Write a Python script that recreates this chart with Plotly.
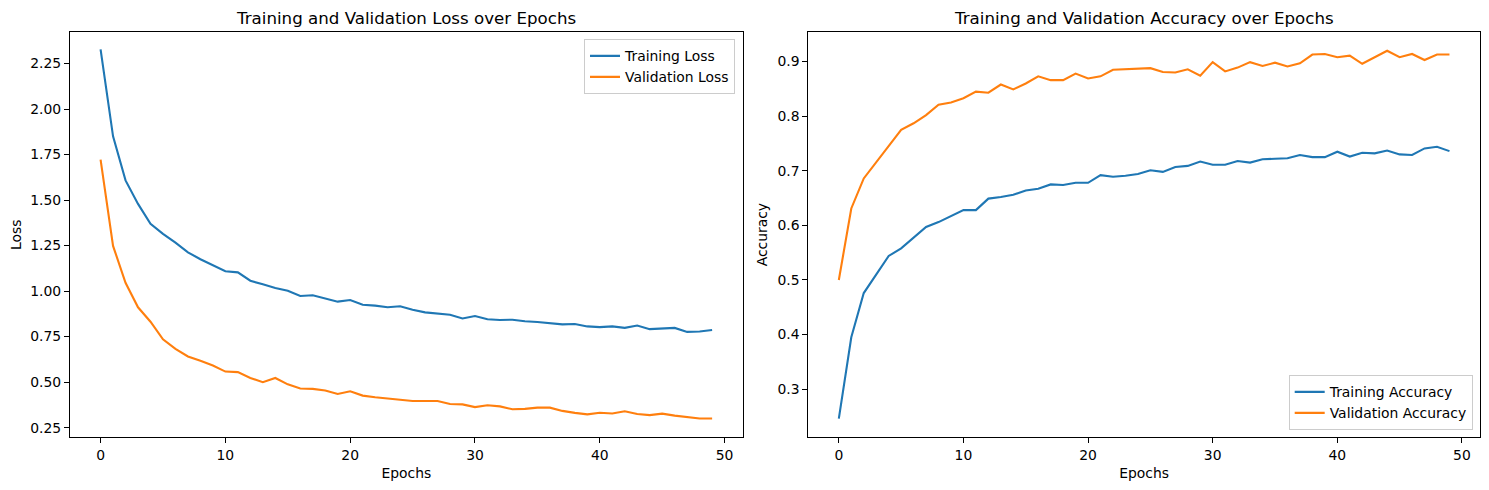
import plotly.graph_objects as go

epochs = list(range(50))

train_loss = [2.327, 1.850, 1.608, 1.479, 1.369, 1.314, 1.266, 1.213, 1.175, 1.142,
              1.109, 1.103, 1.057, 1.037, 1.017, 1.002, 0.973, 0.977, 0.960, 0.942,
              0.951, 0.925, 0.920, 0.911, 0.917, 0.897, 0.883, 0.875, 0.870, 0.850,
              0.863, 0.845, 0.841, 0.843, 0.834, 0.830, 0.824, 0.817, 0.819, 0.806,
              0.802, 0.806, 0.798, 0.811, 0.791, 0.793, 0.798, 0.776, 0.778, 0.786]

val_loss = [1.722, 1.248, 1.046, 0.911, 0.832, 0.735, 0.683, 0.641, 0.617, 0.591,
            0.558, 0.555, 0.523, 0.500, 0.523, 0.488, 0.465, 0.463, 0.454, 0.435,
            0.450, 0.426, 0.417, 0.408, 0.403, 0.396, 0.394, 0.396, 0.380, 0.378,
            0.363, 0.373, 0.367, 0.351, 0.353, 0.360, 0.360, 0.342, 0.331, 0.323,
            0.332, 0.328, 0.340, 0.325, 0.319, 0.327, 0.316, 0.310, 0.300, 0.300]

train_acc = [0.246, 0.395, 0.476, 0.511, 0.544, 0.558, 0.577, 0.597, 0.606, 0.617,
             0.628, 0.628, 0.649, 0.652, 0.656, 0.664, 0.667, 0.675, 0.674, 0.678,
             0.678, 0.692, 0.689, 0.691, 0.694, 0.701, 0.698, 0.707, 0.709, 0.717,
             0.711, 0.711, 0.718, 0.715, 0.721, 0.722, 0.723, 0.729, 0.725, 0.725,
             0.735, 0.726, 0.733, 0.732, 0.737, 0.730, 0.729, 0.741, 0.744, 0.736]

val_acc = [0.500, 0.631, 0.686, 0.715, 0.746, 0.775, 0.787, 0.802, 0.821, 0.825,
           0.833, 0.845, 0.843, 0.858, 0.849, 0.860, 0.873, 0.866, 0.866, 0.878,
           0.869, 0.873, 0.885, 0.886, 0.887, 0.888, 0.881, 0.880, 0.886, 0.874,
           0.899, 0.882, 0.889, 0.899, 0.892, 0.898, 0.891, 0.897, 0.913, 0.914,
           0.908, 0.911, 0.896, 0.908, 0.920, 0.908, 0.914, 0.903, 0.913, 0.913]

loss_ticks = [0.25, 0.50, 0.75, 1.00, 1.25, 1.50, 1.75, 2.00, 2.25]
acc_ticks = [0.3, 0.4, 0.5, 0.6, 0.7, 0.8, 0.9]
x_ticks = [0, 10, 20, 30, 40, 50]

BLUE = "#1f77b4"
ORANGE = "#ff7f0e"
FONT = "DejaVu Sans"
OFF = 8  # default page body margin
W, H = 1489 - OFF, 490 - OFF

fig = go.Figure()
fig.add_trace(go.Scatter(x=epochs, y=train_loss, mode="lines", name="Training Loss",
                         line=dict(color=BLUE, width=2.1), xaxis="x", yaxis="y", legend="legend"))
fig.add_trace(go.Scatter(x=epochs, y=val_loss, mode="lines", name="Validation Loss",
                         line=dict(color=ORANGE, width=2.1), xaxis="x", yaxis="y", legend="legend"))
fig.add_trace(go.Scatter(x=epochs, y=train_acc, mode="lines", name="Training Accuracy",
                         line=dict(color=BLUE, width=2.1), xaxis="x2", yaxis="y2", legend="legend2"))
fig.add_trace(go.Scatter(x=epochs, y=val_acc, mode="lines", name="Validation Accuracy",
                         line=dict(color=ORANGE, width=2.1), xaxis="x2", yaxis="y2", legend="legend2"))


def px_x(p):
    return (p - OFF) / W


def px_y(p):
    return 1 - (p - OFF) / H


TS = 13.9
axis_common = dict(showgrid=False, zeroline=False, showline=True, linecolor="black",
                   linewidth=1.1, mirror=True, ticks="outside", ticklen=5, tickwidth=1.1,
                   tickcolor="black", tickfont=dict(family=FONT, size=TS, color="black"))

xdom1 = [px_x(70), px_x(742.7)]
xdom2 = [px_x(808.3), px_x(1480)]
ydom = [px_y(437), px_y(32.3)]

fig.update_layout(
    width=W, height=H,
    margin=dict(l=0, r=0, t=0, b=0),
    paper_bgcolor="white", plot_bgcolor="white",
    font=dict(family=FONT, size=TS, color="black"),
    xaxis=dict(domain=xdom1, range=[-2.45, 51.45], tickvals=x_ticks, anchor="y",
               title=dict(text="Epochs", font=dict(family=FONT, size=TS), standoff=6), **axis_common),
    yaxis=dict(domain=ydom, range=[0.1987, 2.4213], tickvals=loss_ticks,
               ticktext=[f"{v:.2f}" for v in loss_ticks], anchor="x",
               title=dict(text="Loss", font=dict(family=FONT, size=TS), standoff=6), **axis_common),
    xaxis2=dict(domain=xdom2, range=[-2.45, 51.45], tickvals=x_ticks, anchor="y2",
                title=dict(text="Epochs", font=dict(family=FONT, size=TS), standoff=6), **axis_common),
    yaxis2=dict(domain=ydom, range=[0.2123, 0.9537], tickvals=acc_ticks,
                ticktext=[f"{v:.1f}" for v in acc_ticks], anchor="x2",
                title=dict(text="Accuracy", font=dict(family=FONT, size=TS), standoff=6), **axis_common),
    legend=dict(x=px_x(735), y=px_y(39.3), xanchor="right", yanchor="top",
                bgcolor="rgba(255,255,255,0.8)", bordercolor="#cccccc", borderwidth=1,
                font=dict(family=FONT, size=TS, color="black"), tracegroupgap=0),
    legend2=dict(x=px_x(1472.7), y=px_y(430.3), xanchor="right", yanchor="bottom",
                 bgcolor="rgba(255,255,255,0.8)", bordercolor="#cccccc", borderwidth=1,
                 font=dict(family=FONT, size=TS, color="black"), tracegroupgap=0),
    annotations=[
        dict(text="Training and Validation Loss over Epochs", xref="paper", yref="paper",
             x=(xdom1[0] + xdom1[1]) / 2, y=px_y(18), xanchor="center", yanchor="middle",
             showarrow=False, font=dict(family=FONT, size=16.67, color="black")),
        dict(text="Training and Validation Accuracy over Epochs", xref="paper", yref="paper",
             x=(xdom2[0] + xdom2[1]) / 2, y=px_y(18), xanchor="center", yanchor="middle",
             showarrow=False, font=dict(family=FONT, size=16.67, color="black")),
    ],
)

fig.write_html("out.html")
